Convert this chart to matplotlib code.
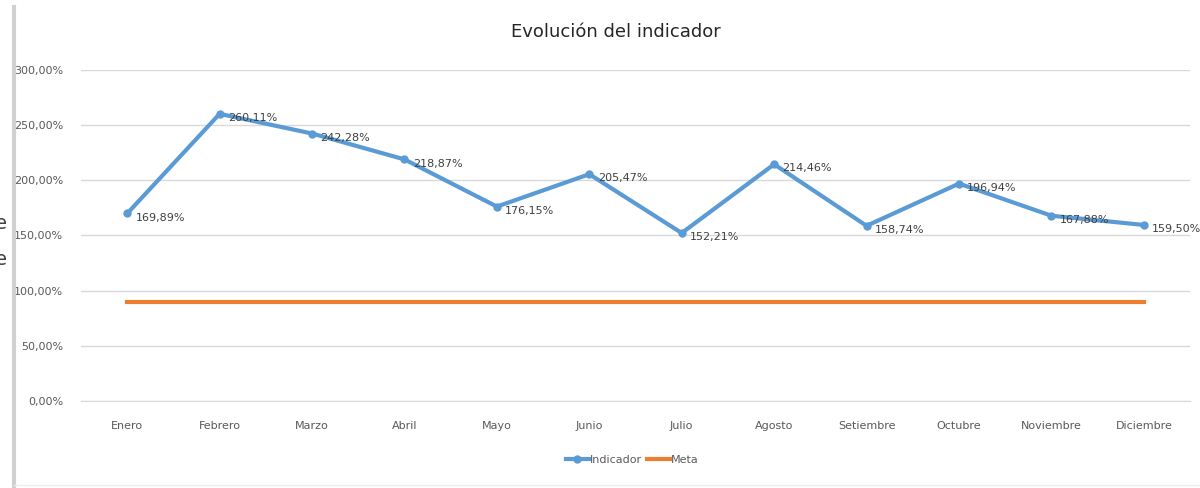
import matplotlib.pyplot as plt
from matplotlib.ticker import FuncFormatter

meses = ["Enero", "Febrero", "Marzo", "Abril", "Mayo", "Junio", "Julio",
         "Agosto", "Setiembre", "Octubre", "Noviembre", "Diciembre"]
indicador = [169.89, 260.11, 242.28, 218.87, 176.15, 205.47, 152.21,
             214.46, 158.74, 196.94, 167.88, 159.50]
meta = [90.0] * 12

plt.rcParams['font.family'] = ['DejaVu Sans']

azul = "#5B9BD5"
naranja = "#ED7D31"
gris = "#595959"

fig = plt.figure(figsize=(12, 4.88), dpi=100)
ax = fig.add_axes([0.0675, 0.178, 0.9242, 0.679])

x = list(range(len(meses)))
ax.plot(x, indicador, color=azul, lw=3, marker="o", ms=5, label="Indicador", zorder=3)
ax.plot(x, meta, color=naranja, lw=3, label="Meta", zorder=2)

for xi, v in zip(x, indicador):
    txt = f"{v:.2f}".replace(".", ",") + "%"
    ax.annotate(txt, (xi, v), xytext=(6, -3), textcoords="offset points",
                va="center", ha="left", fontsize=8, color="#404040")

ax.set_xlim(-0.5, len(meses) - 0.5)
ax.set_ylim(0, 300)
ax.set_yticks(range(0, 301, 50))
ax.yaxis.set_major_formatter(FuncFormatter(lambda v, p: f"{v:.2f}".replace(".", ",") + "%"))
ax.set_xticks(x)
ax.set_xticklabels(meses, color="#404040")
ax.grid(axis="y", color="#D9D9D9", lw=1)
ax.set_axisbelow(True)
for s in ax.spines.values():
    s.set_visible(False)
ax.spines["bottom"].set_visible(True)
ax.spines["bottom"].set_color("#D9D9D9")
ax.tick_params(length=0, labelsize=8, colors=gris, pad=14)
ax.tick_params(axis="y", pad=13)

fig.text(0.513, 0.935, "Evolución del indicador", ha="center", va="center",
         fontsize=13, color="#262626")

leg = fig.legend(loc="center", bbox_to_anchor=(0.527, 0.057), ncol=2, frameon=False,
                 fontsize=8, handlelength=2.0, columnspacing=0.5, handletextpad=0.1,
                 labelcolor=gris)

# marco de la tarjeta y restos de texto recortado a la izquierda
fig.add_artist(plt.Line2D([0.012, 0.012], [0.0, 0.985], color="#D0D0D0", lw=3))
fig.add_artist(plt.Line2D([0.012, 1.0], [0.006, 0.006], color="#EBEBEB", lw=1))
fig.text(0.001, 0.541, "e", ha="center", va="center", fontsize=14, color="#404040")
fig.text(0.001, 0.469, "e", ha="center", va="center", fontsize=14, color="#404040")

fig.savefig("out.png", dpi=100, facecolor="white")
